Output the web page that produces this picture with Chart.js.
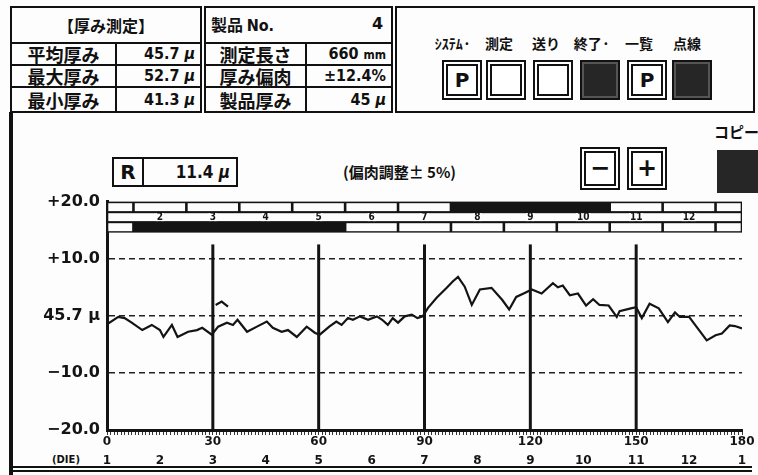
<!DOCTYPE html>
<html lang="ja">
<head>
<meta charset="UTF-8">
<title>厚み測定</title>
<script src="https://cdn.jsdelivr.net/npm/chart.js"></script>
<style>
  body { margin: 0; background: #fff; }
  #screen { position: relative; width: 758px; height: 475px; overflow: hidden; background: #fdfdfd;
            font-family: "Noto Sans CJK JP", sans-serif; font-weight: 700; color: #111; }
  .abs { position: absolute; white-space: nowrap; }
  table.t { position: absolute; top: 6px; height: 107px; border-collapse: collapse; table-layout: fixed; }
  table.t td { border: 2px solid #111; padding: 0 5px; line-height: 1; white-space: nowrap; overflow: hidden; }
  td.hd { font-size: 16px; }
  td.lb { font-size: 18px; text-align: center; }
  td.vl { font-family: "DejaVu Sans Condensed", "Liberation Sans Narrow", sans-serif; font-size: 16px; text-align: right; }
  .panel { position: absolute; border: 2px solid #111; box-sizing: border-box; }
  .lbl { position: absolute; top: 33px; font-size: 14px; width: 50px; text-align: center; white-space: nowrap; }
  .btn { position: absolute; top: 60px; width: 40px; height: 40px; box-sizing: border-box; border: 2px solid #111;
         box-shadow: inset 0 0 0 2px #fff, inset 0 0 0 4px #111; background: #fff;
         font-family: "DejaVu Sans", sans-serif; font-size: 20px; text-align: center; line-height: 36px; }
  .dark { background: #262626; box-shadow: inset 0 0 0 2px #555; }
  #chart { position: absolute; left: 0; top: 185px; }
</style>
</head>
<body>
<div id="screen">
  <!-- header tables -->
  <table class="t" style="left:10px;width:190px">
    <colgroup><col style="width:105px"><col style="width:85px"></colgroup>
    <tr style="height:36px"><td colspan="2" class="hd" style="text-align:center">【厚み測定】</td></tr>
    <tr style="height:22px"><td class="lb">平均厚み</td><td class="vl">45.7 <i>μ</i></td></tr>
    <tr style="height:22px"><td class="lb">最大厚み</td><td class="vl">52.7 <i>μ</i></td></tr>
    <tr><td class="lb">最小厚み</td><td class="vl">41.3 <i>μ</i></td></tr>
  </table>
  <table class="t" style="left:204px;width:187px">
    <colgroup><col style="width:101px"><col style="width:86px"></colgroup>
    <tr style="height:36px"><td colspan="2" class="hd" style="position:relative">製品 <span style="font-family:'DejaVu Sans Condensed',sans-serif">No.</span><span style="position:absolute;right:8px;font-family:'DejaVu Sans',sans-serif">4</span></td></tr>
    <tr style="height:22px"><td class="lb">測定長さ</td><td class="vl">660 <span style="font-size:12px">mm</span></td></tr>
    <tr style="height:22px"><td class="lb">厚み偏肉</td><td class="vl">±12.4%</td></tr>
    <tr><td class="lb">製品厚み</td><td class="vl">45 <i>μ</i></td></tr>
  </table>
  <div class="panel" style="left:395px;top:6px;width:360px;height:107px"></div>
  <div class="lbl" style="left:428px">ｼｽﾃﾑ·</div>
  <div class="lbl" style="left:474px">測定</div>
  <div class="lbl" style="left:521px">送り</div>
  <div class="lbl" style="left:567px">終了·</div>
  <div class="lbl" style="left:614px">一覧</div>
  <div class="lbl" style="left:662px">点線</div>
  <div class="btn" style="left:442px">P</div>
  <div class="btn" style="left:486px"></div>
  <div class="btn" style="left:533px"></div>
  <div class="btn dark" style="left:580px"></div>
  <div class="btn" style="left:627px">P</div>
  <div class="btn dark" style="left:672px"></div>

  <!-- lower frame -->
  <div class="abs" style="left:9px;top:112px;width:4px;height:363px;background:#111"></div>
  <div class="abs" style="left:12px;top:466px;width:740px;height:2px;border-top:2px solid #111;border-bottom:2px solid #111"></div>
  <div class="abs" style="left:714px;top:121px;font-size:15px">コピー</div>
  <div class="abs" style="left:717px;top:150px;width:50px;height:43px;background:#262626"></div>
  <div class="abs" style="left:112px;top:157px;width:126px;height:30px;box-sizing:border-box;border:2px solid #111;display:flex">
    <div style="width:28px;border-right:2px solid #111;font-family:'DejaVu Sans',sans-serif;font-size:20px;line-height:26px;text-align:center">R</div>
    <div style="flex:1;text-align:right;padding-right:6px;font-family:'DejaVu Sans Condensed',sans-serif;font-size:17px;line-height:26px">11.4 <i>μ</i></div>
  </div>
  <div class="abs" style="left:343px;top:161px;font-size:15px">(偏肉調整± 5%)</div>
  <div class="btn" style="left:580px;top:147px;height:43px;line-height:39px;font-size:24px">−</div>
  <div class="btn" style="left:627px;top:147px;height:43px;line-height:39px;font-size:24px">+</div>
  <div class="abs" style="left:52px;top:454px;font-family:'DejaVu Sans',sans-serif;font-size:10px">(DIE)</div>

  <canvas id="chart" width="758" height="290"></canvas>
</div>

<script>
  // thickness profile: position along the film (0-180) and deviation from 45.7 μ
  const positions = [0, 3.2, 5, 7, 10, 12.7, 15, 16, 18.4, 20, 23, 25.5, 27, 29.7,
    31.5, 34, 35.7, 37, 39.7, 42.5, 45.3, 47, 49.5, 51.3, 53.8, 56.6, 59,
    60.3, 63, 65, 66.5, 68.3, 69.7, 71.7, 74, 76.5, 78, 79.6, 81, 82.5, 84.4, 86.4, 88, 89.5,
    91, 93.5, 96.3, 98, 99.5, 101.4, 103.4, 105.7, 109, 112, 114, 116, 118.4,
    120.4, 123.2, 126.4, 127.8, 129.2, 131.2, 133.5, 135.8, 137.8, 139.6, 142.2, 144.5, 145.3, 148.5,
    150, 151.6, 153.8, 156.4, 159, 161, 162.4, 165, 170, 172.5, 174.3, 176.5, 178, 180];
  const deviations = [-1.5, -0.2, -0.4, -1.2, -2.5, -1.6, -2.5, -3.7, -1.6, -3.7, -2.8, -2.5, -2.1, -3.3,
    -1.9, -1.2, -1.6, -0.7, -2.8, -1.9, -1.0, -2.1, -2.8, -2.5, -3.7, -1.9, -3.0,
    -3.3, -1.9, -1.0, -1.6, -0.4, -0.7, -0.1, -0.7, -0.1, -0.7, -1.6, -0.4, -1.2, -0.1, 0.2, -0.4, -0.1,
    1.4, 3.2, 4.9, 6.0, 6.8, 5.1, 1.9, 4.6, 4.9, 2.8, 1.1, 3.3, 4.0,
    4.6, 3.9, 5.7, 5.0, 5.3, 3.6, 3.9, 1.8, 2.9, 1.9, 1.8, -0.2, 0.8, 1.3,
    1.5, -0.4, 2.1, 1.3, -1.1, 0.6, -0.2, -0.2, -4.3, -3.4, -3.1, -1.7, -1.8, -2.2];
  // small stray trace piece just right of the 30 divider
  const blipPositions = [30.8, 32.5, 34.3];
  const blipDeviations = [1.9, 2.5, 1.6];

  const yTicks = [-20, -10, 0, 10, 20];
  const yLabels = ['−20.0', '−10.0', '45.7 μ', '+10.0', '+20.0'];
  const dieLabels = ['1', '2', '3', '4', '5', '6', '7', '8', '9', '10', '11', '12', '1'];
  const dividers = [30, 60, 90, 120, 150];
  const dividerTop = 12.5;

  // brick rows above the plot (joints in x units)
  const brickJointsA = [0, 7.5, 22.5, 37.5, 52.5, 67.5, 82.5, 97.5, 112.5, 127.5, 142.5, 157.5, 172.5, 180];
  const brickJointsB = [0, 15, 30, 45, 60, 75, 90, 105, 120, 135, 150, 165, 180];
  const brickNumbersB = ['', '2', '3', '4', '5', '6', '7', '8', '9', '10', '11', '12', ''];
  const darkRowA = [[97.5, 142.5]];
  const darkRowC = [[7.5, 67.5]];

  const profile = positions.map((p, i) => ({ x: p, y: deviations[i] }));
  const blip = blipPositions.map((p, i) => ({ x: p, y: blipDeviations[i] }));

  const ink = '#141414';

  const structure = {
    id: 'structure',
    beforeDatasetsDraw(chart) {
      const { ctx, scales: { x, y } } = chart;
      ctx.save();
      ctx.strokeStyle = ink;
      ctx.lineWidth = 3;
      dividers.forEach(v => {
        const px = x.getPixelForValue(v);
        ctx.beginPath();
        ctx.moveTo(px, y.getPixelForValue(dividerTop));
        ctx.lineTo(px, y.getPixelForValue(-20));
        ctx.stroke();
      });

      const rowH = 10;
      const top = chart.chartArea.top;
      const rows = [
        { joints: brickJointsA, dark: darkRowA },
        { joints: brickJointsB, dark: [], numbers: brickNumbersB },
        { joints: brickJointsA, dark: darkRowC }
      ];
      rows.forEach((row, r) => {
        const y0 = top + r * rowH;
        const xl = x.getPixelForValue(0), xr = x.getPixelForValue(180);
        ctx.fillStyle = ink;
        ctx.fillRect(xl, y0, xr - xl, rowH + 1);
        for (let i = 0; i < row.joints.length - 1; i++) {
          const a = row.joints[i], b = row.joints[i + 1];
          const isDark = row.dark.some(d => a >= d[0] && b <= d[1]);
          if (isDark) continue;
          const pa = x.getPixelForValue(a), pb = x.getPixelForValue(b);
          ctx.fillStyle = '#fdfdfd';
          ctx.fillRect(pa + 1.3, y0 + 1.6, pb - pa - 2.6, rowH - 2);
        }
        if (row.numbers) {
          ctx.font = 'bold 10px "DejaVu Sans Condensed", sans-serif';
          ctx.textAlign = 'center';
          ctx.textBaseline = 'middle';
          row.joints.forEach((j, i) => {
            const label = row.numbers[i];
            if (!label) return;
            const px = x.getPixelForValue(j);
            const w = ctx.measureText(label).width + 2;
            ctx.fillStyle = '#fdfdfd';
            ctx.fillRect(px - w / 2, y0 + 1.6, w, rowH - 2);
            ctx.fillStyle = ink;
            ctx.fillText(label, px, y0 + rowH / 2 + 1);
          });
        }
      });
      ctx.restore();
    }
  };

  new Chart(document.getElementById('chart').getContext('2d'), {
    type: 'line',
    data: {
      datasets: [
        { data: profile, borderColor: ink, borderWidth: 2.2, pointRadius: 0, tension: 0 },
        { data: blip, borderColor: ink, borderWidth: 2.2, pointRadius: 0, tension: 0 }
      ]
    },
    options: {
      responsive: false,
      animation: false,
      events: [],
      layout: { padding: { top: 12, right: 16, bottom: 6, left: 0 } },
      plugins: { legend: { display: false }, tooltip: { enabled: false } },
      scales: {
        x: {
          type: 'linear', min: 0, max: 180, position: 'bottom', weight: 0,
          ticks: {
            stepSize: 1, autoSkip: false, maxRotation: 0, maxTicksLimit: 400, padding: 0, color: ink,
            font: { family: 'DejaVu Sans', weight: 'bold', size: 12 },
            callback: v => (v % 30 === 0 ? String(v) : '')
          },
          grid: { drawOnChartArea: false, tickLength: 5, tickColor: '#333', tickWidth: 1 },
          border: { color: ink, width: 3 },
          afterFit: s => { s.height = 21; }
        },
        die: {
          type: 'linear', min: 0, max: 180, position: 'bottom', weight: 1,
          ticks: {
            stepSize: 15, autoSkip: false, maxRotation: 0, maxTicksLimit: 40, padding: 3, color: ink,
            font: { family: 'DejaVu Sans', weight: 'bold', size: 12 },
            callback: v => dieLabels[Math.round(v / 15)]
          },
          grid: { display: false, drawTicks: false },
          border: { display: false },
          afterFit: s => { s.height = 18; }
        },
        y: {
          min: -20, max: 20,
          ticks: {
            stepSize: 10, padding: 7, color: ink,
            font: { family: 'DejaVu Sans', weight: 'bold', size: 16 },
            callback: v => yLabels[yTicks.indexOf(v)]
          },
          grid: {
            drawTicks: false, lineWidth: 1.6,
            color: c => (Math.abs(c.tick.value) === 20 ? 'rgba(0,0,0,0)' : '#222')
          },
          border: { color: ink, width: 3, dash: [6, 4] },
          afterFit: s => { s.width = 107; }
        }
      }
    },
    plugins: [structure]
  });
</script>
</body>
</html>
